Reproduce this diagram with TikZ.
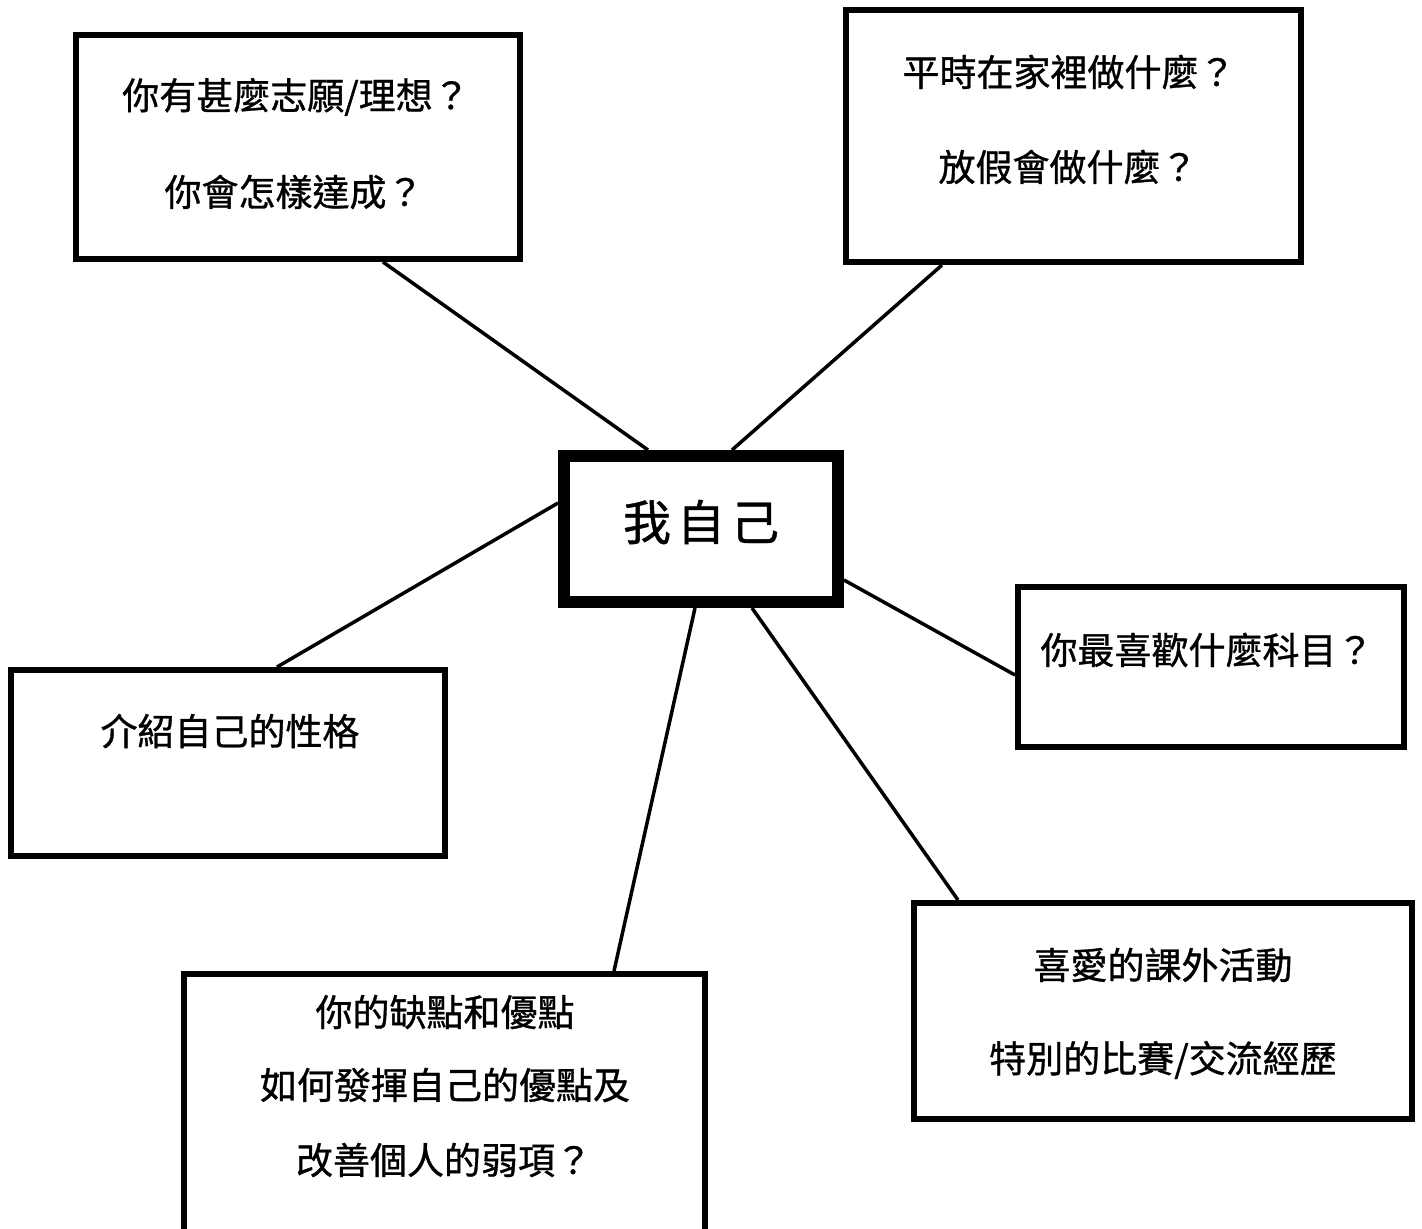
\documentclass[tikz,border=0pt]{standalone}
\usepackage{fontspec}
\setmainfont{Noto Sans CJK TC}[FakeBold=0.9]
\usetikzlibrary{calc}
\tikzset{
  box/.style={draw=black, fill=white, line width=6pt, rectangle, inner sep=0pt},
  centerbox/.style={box, line width=12pt},
  txt/.style={inner sep=0pt, anchor=center, font=\fontsize{37pt}{42pt}\selectfont},
  bigtxt/.style={inner sep=0pt, anchor=center, font=\fontsize{48pt}{54pt}\selectfont},
  link/.style={draw=black, line width=3.5pt, line cap=butt}
}
\begin{document}
\begin{tikzpicture}[x=1pt,y=-1pt]
\useasboundingbox[fill=white] (0,0) rectangle (1422,1229);

% boxes
\node[box, minimum width=444pt, minimum height=224pt] (A) at (298,147) {};
\node[box, minimum width=455pt, minimum height=252pt] (B) at (1073.5,136) {};
\node[centerbox, minimum width=274pt, minimum height=146pt] (C) at (701,529) {};
\node[box, minimum width=386pt, minimum height=160pt] (D) at (1211,667) {};
\node[box, minimum width=434pt, minimum height=186pt] (E) at (228,763) {};
\node[box, minimum width=498pt, minimum height=216pt] (F) at (1163,1011) {};
\node[box, minimum width=521pt, minimum height=286pt] (G) at (444.5,1117) {};

% connectors
\draw[link] ($(A.south)+(85,0)$) -- ($(C.north)+(-53,0)$);
\draw[link] ($(B.south)+(-131.5,0)$) -- ($(C.north)+(31,0)$);
\draw[link] ($(C.west)+(0,-26)$) -- ($(E.north)+(49,0)$);
\draw[link] ($(C.east)+(0,51)$) -- ($(D.west)+(0,8)$);
\draw[link] ($(C.south)+(-6,0)$) -- ($(G.north)+(169.5,0)$);
\draw[link] ($(C.south)+(51,0)$) -- ($(F.north)+(-205,0)$);

% texts
\node[txt] (a1) at (296,97) {你有甚麼志願/理想？};
\node[txt] (a2) at (294,192) {你會怎樣達成？};
\node[txt] (b1) at (1069,72) {平時在家裡做什麼？};
\node[txt] (b2) at (1068,167) {放假會做什麼？};
\node[bigtxt] (c1) at (701,522) {我\hspace{6pt}自\hspace{6pt}己};
\node[txt] (d1) at (1207,650) {你最喜歡什麼科目？};
\node[txt] (e1) at (230,731) {介紹自己的性格};
\node[txt] (f1) at (1163,965) {喜愛的課外活動};
\node[txt] (f2) at (1163,1060) {特別的比賽/交流經歷};
\node[txt] (g1) at (445,1012) {你的缺點和優點};
\node[txt] (g2) at (445,1085) {如何發揮自己的優點及};
\node[txt] (g3) at (444,1160) {改善個人的弱項？};
\end{tikzpicture}
\end{document}
